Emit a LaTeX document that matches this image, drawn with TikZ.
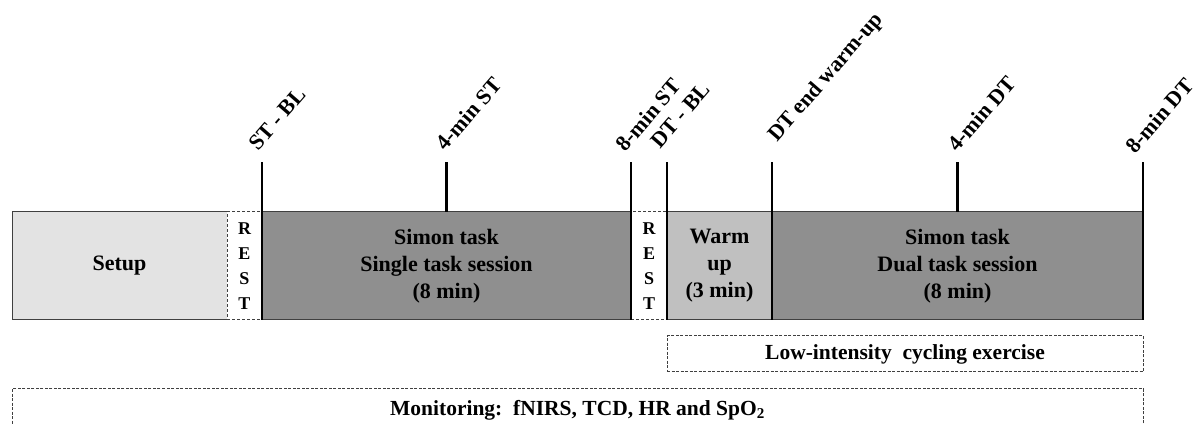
\documentclass[tikz,border=0pt]{standalone}
\usepackage{fontspec}
\setmainfont{Liberation Serif}
\usetikzlibrary{positioning}
\definecolor{setupgray}{RGB}{227,227,227}
\definecolor{taskgray}{RGB}{143,143,143}
\definecolor{warmgray}{RGB}{192,192,192}
\tikzset{
  phase/.style={draw=black!75,line width=1pt,inner sep=0pt,outer sep=0pt,
    minimum height=108pt,align=center,font=\fontsize{22}{27}\selectfont\bfseries},
  restbox/.style={phase,fill=white,dash pattern=on 3pt off 2pt,
    font=\fontsize{18}{25}\selectfont\bfseries},
  tick/.style={line width=2.2pt},
  marker/.style={rotate=49,anchor=base west,inner sep=0pt,
    font=\fontsize{22}{26}\selectfont\bfseries},
  spanbox/.style={draw=black!75,line width=1pt,dash pattern=on 3pt off 1.5pt,
    inner sep=0pt,outer sep=0pt,font=\fontsize{21.5}{26}\selectfont\bfseries},
}

\begin{document}
\begin{tikzpicture}[x=1pt,y=1pt]
\useasboundingbox (0,0) rectangle (1202,423);

\node [phase,fill=setupgray,minimum width=215pt,anchor=south west] (setup) at (12,103) {Setup};
\node [restbox,minimum width=35pt,right=0pt of setup] (rest1) {R\\E\\S\\T};
\node [phase,fill=taskgray,minimum width=369pt,right=0pt of rest1] (st) {Simon task\\Single task session\\(8 min)};
\node [restbox,minimum width=36pt,right=0pt of st] (rest2) {R\\E\\S\\T};
\node [phase,fill=warmgray,minimum width=105pt,right=0pt of rest2] (warm) {Warm\\up\\(3 min)};
\node [phase,fill=taskgray,minimum width=371pt,right=0pt of warm] (dt) {Simon task\\Dual task session\\(8 min)};

\draw [tick] (st.south west) -- ++(0,158) coordinate (t1);
\draw [tick] (st.north) -- ++(0,50) coordinate (t2);
\draw [tick] (st.south east) -- ++(0,158) coordinate (t3);
\draw [tick] (warm.south west) -- ++(0,158) coordinate (t4);
\draw [tick] (dt.south west) -- ++(0,158) coordinate (t5);
\draw [tick] (dt.north) -- ++(0,50) coordinate (t6);
\draw [tick] (dt.south east) -- ++(0,158) coordinate (t7);

\node [marker] (stbl) at ([shift={(-4,10)}]t1) {ST - BL};
\node [marker] (stfour) at ([shift={(-1,10)}]t2) {4-min ST};
\node [marker] (steight) at ([shift={(-6,9)}]t3) {8-min ST};
\node [marker] (dtbl) at ([shift={(-7,12)}]t4) {DT - BL};
\node [marker] (dtwarm) at ([shift={(5,19)}]t5) {DT end warm-up};
\node [marker] (dtfour) at ([shift={(0,9)}]t6) {4-min DT};
\node [marker] (dteight) at ([shift={(-8,7)}]t7) {8-min DT};

\node [spanbox,minimum width=476pt,minimum height=36pt,anchor=north west] (cycle)
  at ([yshift=-16pt]warm.south west) {Low-intensity\ \ cycling exercise};
\node [spanbox,minimum width=1131pt,minimum height=42pt,anchor=north west] (monitor)
  at ([yshift=-69pt]setup.south west) {Monitoring:\ \ fNIRS, TCD, HR and SpO\textsubscript{2}};
\end{tikzpicture}
\end{document}
